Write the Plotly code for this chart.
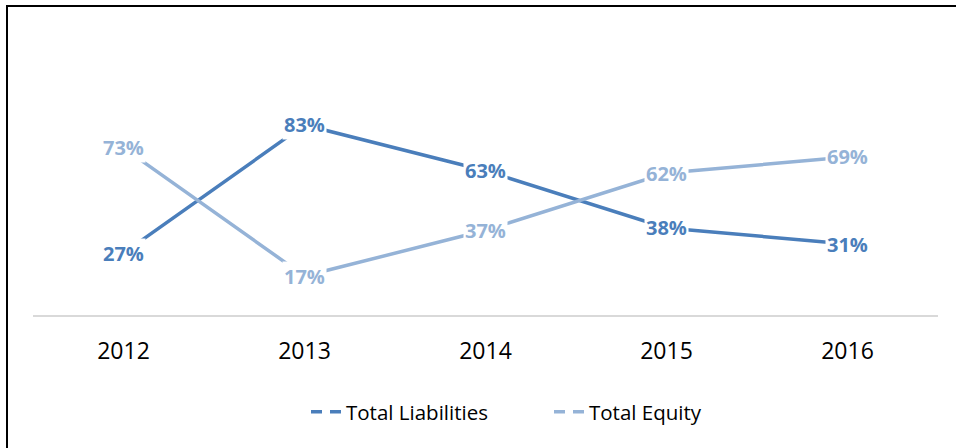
import plotly.graph_objects as go

years = ["2012", "2013", "2014", "2015", "2016"]
liabilities = [0.27, 0.83, 0.63, 0.38, 0.31]
equity = [0.73, 0.17, 0.37, 0.62, 0.69]
series_names = ["Total Liabilities", "Total Equity"]
colors = ["#4A7EBB", "#95B3D7"]

W, H = 956, 448
L, R, T, B = 33, 18, 86, 133
pw, ph = W - L - R, H - T - B

def px(x):
    return (x - L) / pw

def py(y):
    return (H - B - y) / ph

fig = go.Figure()
for name, vals, col in zip(series_names, [liabilities, equity], colors):
    fig.add_trace(go.Scatter(x=years, y=vals, mode="lines", name=name,
                             line=dict(color=col, width=3.5), showlegend=False,
                             hoverinfo="skip"))
# legend-only entries with dashed symbol
for name, col in zip(series_names, colors):
    fig.add_trace(go.Scatter(x=[None], y=[None], mode="lines", name=name,
                             line=dict(color=col, width=3.5, dash="11px,8px")))

annotations = []
for vals, col in zip([liabilities, equity], colors):
    for i, v in enumerate(vals):
        annotations.append(dict(x=i, y=v, xref="x", yref="y", text=f"<b>{round(v*100)}%</b>",
                                showarrow=False, bgcolor="white", borderpad=1,
                                font=dict(family="Open Sans", size=20, color=col)))

fig.update_layout(
    width=W, height=H,
    margin=dict(l=L, r=R, t=T, b=B),
    paper_bgcolor="white", plot_bgcolor="white",
    font=dict(family="Open Sans", color="black"),
    xaxis=dict(type="category", range=[-0.5, 4.5], showline=True, linecolor="#D9D9D9",
               linewidth=2, showgrid=False, ticks="", ticklabelstandoff=14,
               tickfont=dict(size=23, color="black"), zeroline=False),
    yaxis=dict(range=[0, 1], visible=False, showgrid=False, zeroline=False),
    legend=dict(orientation="h", x=px(306), y=py(412), xanchor="left", yanchor="middle",
                font=dict(size=20.5, color="black"), itemwidth=30, traceorder="normal",
                entrywidth=198, entrywidthmode="pixels"),
    annotations=annotations,
    shapes=[dict(type="path", xref="paper", yref="paper",
                 path=f"M {px(7)},{py(470)} L {px(7)},{py(6)} L {px(980)},{py(6)}",
                 line=dict(color="black", width=2), layer="above")],
)

fig.write_html("out.html", config={"displayModeBar": False},
               post_script="document.body.style.margin='0';")
